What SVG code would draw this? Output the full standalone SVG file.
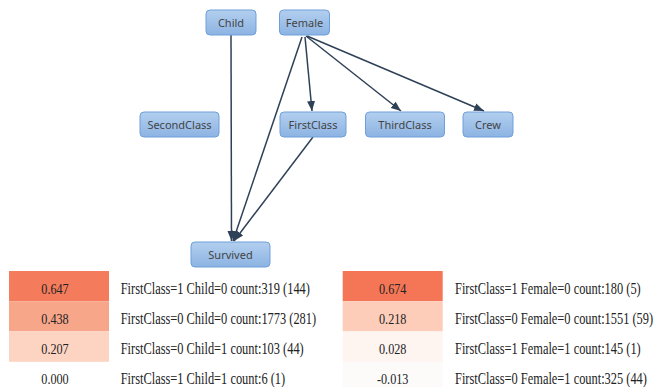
<svg xmlns="http://www.w3.org/2000/svg" width="656" height="387" viewBox="0 0 656 387">
<style>
.node rect{fill:url(#ng);stroke:#6e9fda;stroke-width:1}
.node text{font-family:"Noto Sans","DejaVu Sans",sans-serif;font-size:11px;fill:#444;text-anchor:middle}
.edge{stroke:#2f4157;stroke-width:1.5;fill:none}
.v{font-family:"Liberation Serif",serif;font-size:12.2px;fill:#222;text-anchor:middle}
.l{font-family:"Liberation Serif",serif;font-size:12.4px;fill:#222}
</style>
<defs>
<linearGradient id="ng" x1="0" y1="0" x2="0" y2="1">
<stop offset="0" stop-color="#b3cfef"/>
<stop offset="1" stop-color="#8cb3e2"/>
</linearGradient>
<marker id="ah" markerUnits="userSpaceOnUse" markerWidth="11" markerHeight="9" refX="10" refY="4" orient="auto">
<path d="M0,0 L10,4 L0,8 z" fill="#2f4157"/>
</marker>
</defs>
<rect width="656" height="387" fill="#fff"/>
<g id="edges">
<line class="edge" x1="231" y1="35" x2="231.5" y2="241" marker-end="url(#ah)"/>
<line class="edge" x1="302" y1="37" x2="233" y2="241" marker-end="url(#ah)"/>
<line class="edge" x1="313" y1="137" x2="234" y2="241" marker-end="url(#ah)"/>
<line class="edge" x1="305" y1="37" x2="312" y2="111" marker-end="url(#ah)"/>
<line class="edge" x1="306" y1="36" x2="401" y2="111" marker-end="url(#ah)"/>
<line class="edge" x1="307" y1="36" x2="484" y2="111" marker-end="url(#ah)"/>
</g>
<g id="Child" class="node"><rect x="206" y="10" width="50" height="25" rx="4"/><text x="231" y="27">Child</text></g>
<g id="Female" class="node"><rect x="279.5" y="10" width="50" height="25" rx="4"/><text x="304.5" y="27">Female</text></g>
<g id="SecondClass" class="node"><rect x="140" y="112" width="79" height="25" rx="4"/><text x="179.5" y="129">SecondClass</text></g>
<g id="FirstClass" class="node"><rect x="280" y="112" width="66" height="25" rx="4"/><text x="313" y="129">FirstClass</text></g>
<g id="ThirdClass" class="node"><rect x="365.5" y="112" width="79" height="25" rx="4"/><text x="405" y="129">ThirdClass</text></g>
<g id="Crew" class="node"><rect x="463" y="112" width="50" height="25" rx="4"/><text x="488" y="129">Crew</text></g>
<g id="Survived" class="node"><rect x="191" y="242" width="79" height="25" rx="4"/><text x="230.5" y="259">Survived</text></g>
<g id="table-left">
<rect x="9" y="271" width="100" height="30.2" fill="#f47b5c"/>
<rect x="9" y="301.2" width="100" height="30.2" fill="#f8a68a"/>
<rect x="9" y="331.4" width="100" height="30.4" fill="#fdd4c2"/>
<text class="v" transform="translate(55,293.5) scale(1,1.28)">0.647</text>
<text class="v" transform="translate(55,323.7) scale(1,1.28)">0.438</text>
<text class="v" transform="translate(55,353.9) scale(1,1.28)">0.207</text>
<text class="v" transform="translate(55,383.5) scale(1,1.28)">0.000</text>
<text class="l" transform="translate(120.7,293.5) scale(1,1.28)">FirstClass=1 Child=0 count:319 (144)</text>
<text class="l" transform="translate(120.7,323.7) scale(1,1.28)">FirstClass=0 Child=0 count:1773 (281)</text>
<text class="l" transform="translate(120.7,353.9) scale(1,1.28)">FirstClass=0 Child=1 count:103 (44)</text>
<text class="l" transform="translate(120.7,383.5) scale(1,1.28)">FirstClass=1 Child=1 count:6 (1)</text>
</g>
<g id="table-right">
<rect x="342.7" y="271" width="100" height="30.2" fill="#f47657"/>
<rect x="342.7" y="301.2" width="100" height="30.2" fill="#fdcdb9"/>
<rect x="342.7" y="331.4" width="100" height="30.4" fill="#fef4f0"/>
<rect x="342.7" y="361.8" width="100" height="30.2" fill="#fcfbfa"/>
<text class="v" transform="translate(392.7,293.5) scale(1,1.28)">0.674</text>
<text class="v" transform="translate(392.7,323.7) scale(1,1.28)">0.218</text>
<text class="v" transform="translate(392.7,353.9) scale(1,1.28)">0.028</text>
<text class="v" transform="translate(392.7,383.5) scale(1,1.28)">-0.013</text>
<text class="l" transform="translate(455,293.5) scale(1,1.28)">FirstClass=1 Female=0 count:180 (5)</text>
<text class="l" transform="translate(455,323.7) scale(1,1.28)">FirstClass=0 Female=0 count:1551 (59)</text>
<text class="l" transform="translate(455,353.9) scale(1,1.28)">FirstClass=1 Female=1 count:145 (1)</text>
<text class="l" transform="translate(455,383.5) scale(1,1.28)">FirstClass=0 Female=1 count:325 (44)</text>
</g>
</svg>
